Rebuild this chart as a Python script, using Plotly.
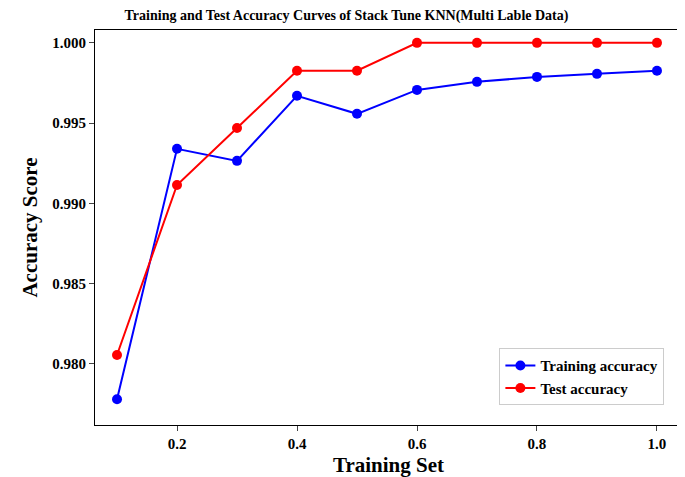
import plotly.graph_objects as go

train_sizes = [0.1, 0.2, 0.3, 0.4, 0.5, 0.6, 0.7, 0.8, 0.9, 1.0]
train_acc = [0.9778, 0.9934, 0.99265, 0.9967, 0.99558, 0.99707, 0.99757, 0.99788, 0.99807, 0.99826]
test_acc = [0.98056, 0.99115, 0.9947, 0.99826, 0.99826, 1.0, 1.0, 1.0, 1.0, 1.0]

x_ticks = [0.2, 0.4, 0.6, 0.8, 1.0]
x_labels = ["<b>0.2</b>", "<b>0.4</b>", "<b>0.6</b>", "<b>0.8</b>", "<b>1.0</b>"]
y_ticks = [0.98, 0.985, 0.99, 0.995, 1.0]
y_labels = ["<b>0.980</b>", "<b>0.985</b>", "<b>0.990</b>", "<b>0.995</b>", "<b>1.000</b>"]

font = "Liberation Serif"
fig = go.Figure()
fig.add_trace(go.Scatter(x=train_sizes, y=train_acc, mode="lines+markers", name="<b>Training accuracy</b>",
                         line=dict(color="blue", width=2), marker=dict(size=10, color="blue")))
fig.add_trace(go.Scatter(x=train_sizes, y=test_acc, mode="lines+markers", name="<b>Test accuracy</b>",
                         line=dict(color="red", width=2), marker=dict(size=10, color="red")))
fig.update_layout(
    width=677, height=469, plot_bgcolor="white", paper_bgcolor="white",
    margin=dict(l=87, r=3, t=22, b=52),
    font=dict(family=font, color="black"),
    title=dict(text="<b>Training and Test Accuracy Curves of Stack Tune KNN(Multi Lable Data)</b>",
               x=0.5, xanchor="center", y=0.995, yanchor="top", font=dict(size=14)),
    xaxis=dict(range=[0.0633, 1.0417], tickvals=x_ticks, ticktext=x_labels,
               ticks="outside", ticklen=5, showline=True, mirror=True, linecolor="black", linewidth=1,
               showgrid=False, zeroline=False, tickfont=dict(size=15),
               title=dict(text="<b>Training Set</b>", font=dict(size=21), standoff=6)),
    yaxis=dict(range=[0.9762, 1.0008], tickvals=y_ticks, ticktext=y_labels,
               ticks="outside", ticklen=5, showline=True, mirror=True, linecolor="black", linewidth=1,
               showgrid=False, zeroline=False, tickfont=dict(size=15),
               title=dict(text="<b>Accuracy Score</b>", font=dict(size=21), standoff=8)),
    legend=dict(x=0.97, y=0.05, xanchor="right", yanchor="bottom", bordercolor="#cccccc", borderwidth=1,
                font=dict(size=15), bgcolor="white"),
)
fig.write_html("out.html")
